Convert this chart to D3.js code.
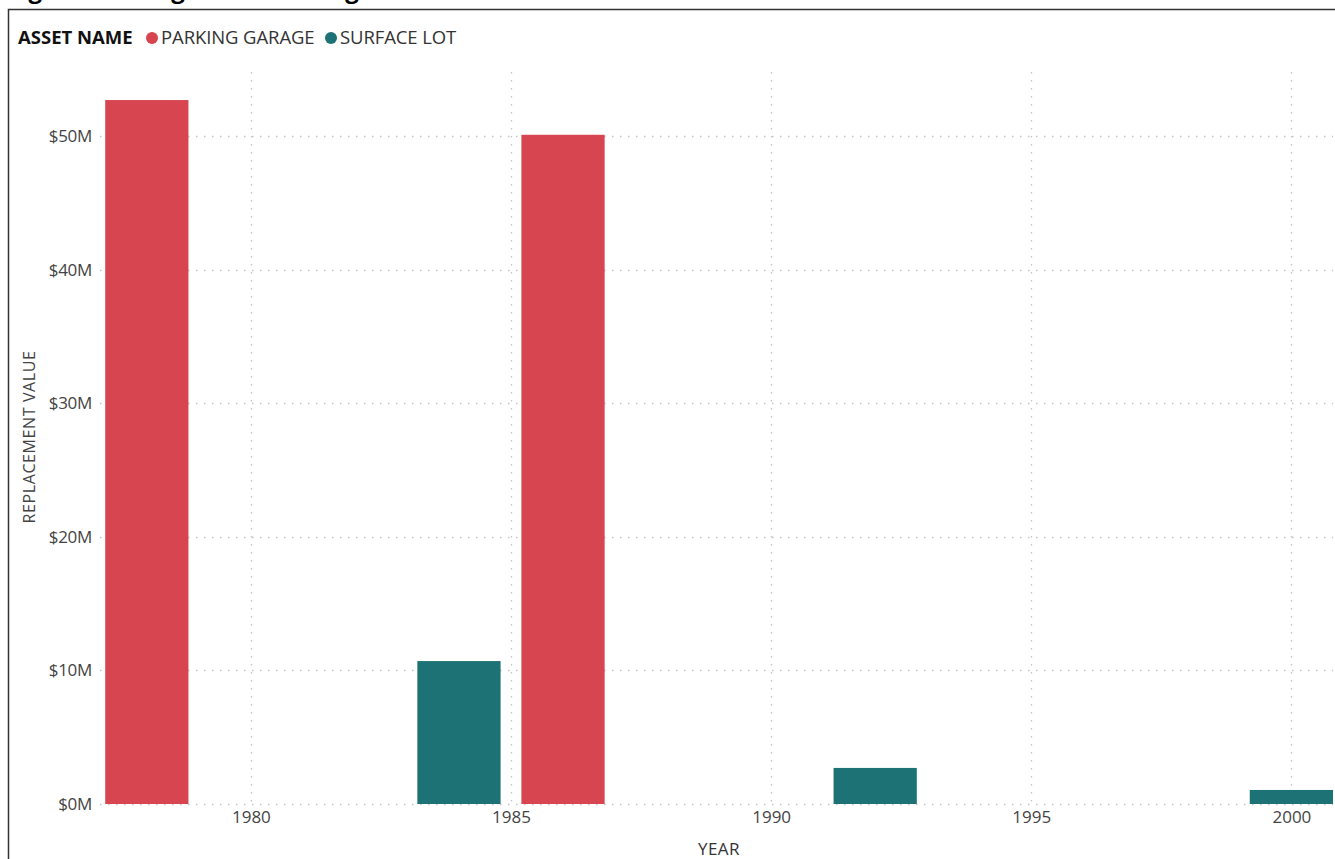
<!DOCTYPE html>
<html>
<head>
<meta charset="utf-8">
<script src="https://cdn.jsdelivr.net/npm/d3@7"></script>
<style>
  html, body { margin: 0; padding: 0; background: #fff; }
  svg { display: block; font-family: "Segoe UI", "Open Sans", "Noto Sans", sans-serif; }
</style>
</head>
<body>
<svg id="chart" width="1335" height="859"></svg>
<script>
// ---- data ----
const seriesNames = ["PARKING GARAGE", "SURFACE LOT"];
const seriesColors = ["#D64550", "#1C7274"];
const years = [1978, 1984, 1986, 1992, 2000];
const seriesOf = ["PARKING GARAGE", "SURFACE LOT", "PARKING GARAGE", "SURFACE LOT", "SURFACE LOT"];
const values = [52.7, 10.7, 50.1, 2.7, 1.05]; // $M
const yTicks = [0, 10, 20, 30, 40, 50];
const xTicks = [1980, 1985, 1990, 1995, 2000];
const titleText = "Age of Parking Lot and Garage Assets";
const legendTitle = "ASSET NAME";
const yAxisTitle = "REPLACEMENT VALUE";
const xAxisTitle = "YEAR";

const svg = d3.select("#chart");

// title (cut off at top of the frame, as in the reference)
svg.append("text").attr("x", 12).attr("y", -2)
  .attr("font-size", 24).attr("font-weight", 700).attr("fill", "#000")
  .text(titleText);

// frame
svg.append("rect").attr("x", 8.5).attr("y", 9.5).attr("width", 1340).attr("height", 900)
  .attr("fill", "none").attr("stroke", "#333").attr("stroke-width", 1.5);

const x = d3.scaleLinear().domain([1977.1, 2000.8]).range([100, 1333]);
const y = d3.scaleLinear().domain([0, 54.8]).range([804, 72]);
const color = d3.scaleOrdinal().domain(seriesNames).range(seriesColors);

// gridlines
const grid = svg.append("g").attr("stroke", "#c4c4c4").attr("stroke-width", 1.3)
  .attr("stroke-dasharray", "1.5,6.5");
grid.selectAll("line.h").data(yTicks).join("line")
  .attr("x1", 100).attr("x2", 1333)
  .attr("y1", d => Math.round(y(d)) + 0.5).attr("y2", d => Math.round(y(d)) + 0.5);
grid.selectAll("line.v").data(xTicks).join("line")
  .attr("y1", 72).attr("y2", 804)
  .attr("x1", d => Math.round(x(d)) + 0.5).attr("x2", d => Math.round(x(d)) + 0.5);

// bars
const barW = x(1.6) - x(0);
const data = years.map((yr, i) => ({ year: yr, series: seriesOf[i], value: values[i] }));
svg.append("g").selectAll("rect").data(data).join("rect")
  .attr("x", d => x(d.year) - barW / 2)
  .attr("width", barW)
  .attr("y", d => y(d.value))
  .attr("height", d => y(0) - y(d.value))
  .attr("fill", d => color(d.series));

const tickFont = "\"Segoe UI\", \"Open Sans\", sans-serif";

// y axis labels
const yAxis = d3.axisLeft(y).tickValues(yTicks).tickFormat(d => "$" + d + "M").tickSize(0).tickPadding(0);
const gy = svg.append("g").attr("transform", "translate(92,0)").call(yAxis);
gy.select(".domain").remove();
gy.selectAll("text").attr("font-size", 17).attr("fill", "#444")
  .attr("font-family", tickFont).attr("letter-spacing", -0.3);

// x axis labels
const xAxis = d3.axisBottom(x).tickValues(xTicks).tickFormat(d3.format("d")).tickSize(0).tickPadding(0);
const gx = svg.append("g").attr("transform", "translate(0,811)").call(xAxis);
gx.select(".domain").remove();
gx.selectAll("text").attr("font-size", 17).attr("fill", "#444")
  .attr("font-family", tickFont);

// axis titles
svg.append("text").attr("transform", "translate(35,437) rotate(-90)")
  .attr("text-anchor", "middle").attr("font-size", 16).attr("letter-spacing", 0.6)
  .attr("fill", "#444").text(yAxisTitle);
svg.append("text").attr("x", 719).attr("y", 855)
  .attr("text-anchor", "middle").attr("font-size", 17).attr("letter-spacing", 0.5)
  .attr("fill", "#333").text(xAxisTitle);

// legend
const lg = svg.append("g");
lg.append("text").attr("x", 18).attr("y", 44).attr("font-size", 18.5).attr("font-weight", 700)
  .attr("letter-spacing", 0).attr("fill", "#111").text(legendTitle);
const legendX = [152, 331];
seriesNames.forEach((s, i) => {
  lg.append("circle").attr("cx", legendX[i]).attr("cy", 38).attr("r", 6).attr("fill", color(s));
  lg.append("text").attr("x", legendX[i] + 9).attr("y", 44).attr("font-size", 18.5)
    .attr("letter-spacing", -0.1).attr("fill", "#333").text(s);
});
</script>
</body>
</html>
